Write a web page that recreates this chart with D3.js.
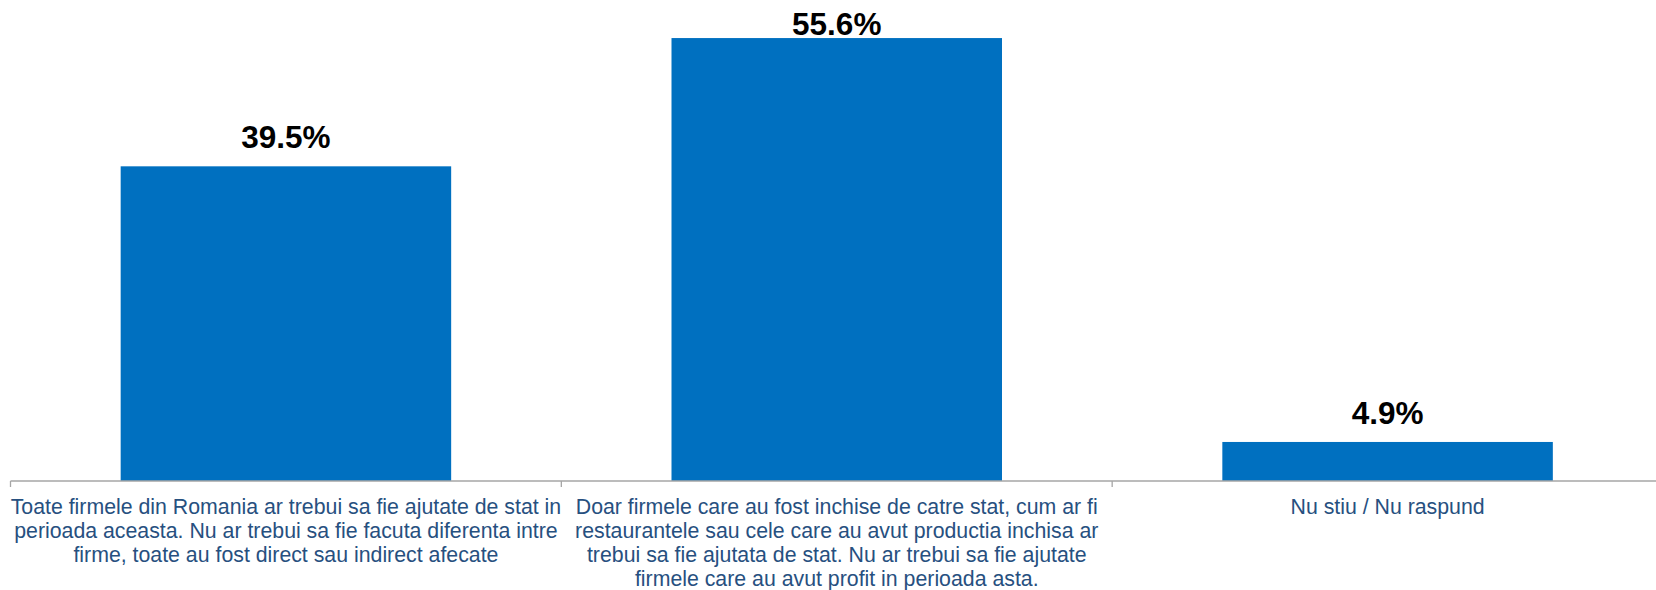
<!DOCTYPE html>
<html>
<head>
<meta charset="utf-8">
<script src="https://cdn.jsdelivr.net/npm/d3@7"></script>
<style>
  html, body { margin: 0; padding: 0; background: #ffffff; overflow: hidden; }
  svg { display: block; font-family: "Liberation Sans", Arial, sans-serif; }
</style>
</head>
<body>
<svg id="chart" width="1656" height="590"></svg>
<script>
// Survey answers: which companies should receive state support
const categories = ["toate", "doar_inchise", "nu_stiu"];
const categoryLines = [
  ["Toate firmele din Romania ar trebui sa fie ajutate de stat in",
   "perioada aceasta. Nu ar trebui sa fie facuta diferenta intre",
   "firme, toate au fost direct sau indirect afecate"],
  ["Doar firmele care au fost inchise de catre stat, cum ar fi",
   "restaurantele sau cele care au avut productia inchisa ar",
   "trebui sa fie ajutata de stat. Nu ar trebui sa fie ajutate",
   "firmele care au avut profit in perioada asta."],
  ["Nu stiu / Nu raspund"]
];
const values = [39.5, 55.6, 4.9];
const valueLabels = ["39.5%", "55.6%", "4.9%"];

const svg = d3.select("#chart");
const axisY = 481;

const x = d3.scaleBand()
  .domain(categories)
  .range([10.5, 1663])
  .paddingInner(0)
  .paddingOuter(0);

const y = d3.scaleLinear()
  .domain([0, 60])
  .range([axisY, 3]);

const barW = x.bandwidth() * 0.6;
const barColor = "#0070C0";

// bars
svg.append("g")
  .selectAll("rect")
  .data(values)
  .join("rect")
  .attr("x", (d, i) => x(categories[i]) + (x.bandwidth() - barW) / 2)
  .attr("y", d => y(d))
  .attr("width", barW)
  .attr("height", d => y(0) - y(d))
  .attr("fill", barColor);

// category axis: baseline plus ticks between categories
const axis = svg.append("g").attr("stroke", "#a6a6a6").attr("stroke-width", 1.3);
axis.append("line")
  .attr("x1", x.range()[0]).attr("x2", x.range()[1])
  .attr("y1", axisY).attr("y2", axisY);
const boundaries = categories.map(c => x(c)).concat([x(categories[categories.length - 1]) + x.bandwidth()]);
axis.selectAll("line.tick")
  .data(boundaries)
  .join("line")
  .attr("class", "tick")
  .attr("x1", d => d).attr("x2", d => d)
  .attr("y1", axisY).attr("y2", axisY + 6);

// value labels above the bars, kept inside the plot top
svg.append("g")
  .selectAll("text")
  .data(values)
  .join("text")
  .attr("x", (d, i) => x(categories[i]) + x.bandwidth() / 2)
  .attr("y", d => Math.max(y(d) - 18, 35))
  .attr("text-anchor", "middle")
  .attr("font-size", 31.5)
  .attr("font-weight", "bold")
  .attr("fill", "#000000")
  .text((d, i) => valueLabels[i]);

// wrapped category labels
const labels = svg.append("g")
  .attr("font-size", 21.3)
  .attr("fill", "#27507f")
  .attr("text-anchor", "middle");
categories.forEach((c, i) => {
  const cx = x(c) + x.bandwidth() / 2;
  labels.append("text")
    .selectAll("tspan")
    .data(categoryLines[i])
    .join("tspan")
    .attr("x", cx)
    .attr("y", (d, j) => 514 + j * 24)
    .text(d => d);
});
</script>
</body>
</html>
